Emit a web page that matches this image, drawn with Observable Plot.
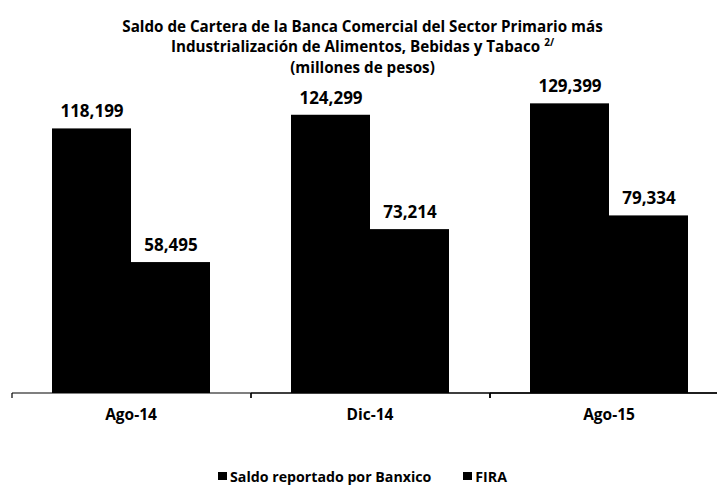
<!DOCTYPE html>
<html>
<head>
<meta charset="utf-8">
<script src="https://cdn.jsdelivr.net/npm/d3@7"></script>
<script src="https://cdn.jsdelivr.net/npm/@observablehq/plot@0.6"></script>
<style>
  html, body { margin: 0; padding: 0; background: #fff; }
  body { width: 717px; height: 485px; overflow: hidden; font-family: "Open Sans", sans-serif; color: #000; }
  #title { height: 70px; box-sizing: border-box; padding-top: 16px; text-align: center; font-weight: 700; font-size: 15.2px; line-height: 20.3px; padding-left: 8px; white-space: nowrap; }
  #title sup { font-size: 10px; line-height: 0; vertical-align: 6px; }
  #chart { width: 717px; height: 365px; overflow: hidden; }
  #chart svg { max-width: none !important; }
  #legend { height: 82px; display: flex; justify-content: center; align-items: center; gap: 32px; font-weight: 700; font-size: 14.2px; padding-left: 8px; }
  #legend .item { display: flex; align-items: center; gap: 3px; }
  #legend .sw { width: 9px; height: 8px; background: #000; display: inline-block; }
</style>
</head>
<body>
<div id="title">Saldo de Cartera de la Banca Comercial del Sector Primario más<br>Industrialización de Alimentos, Bebidas y Tabaco <sup>2/</sup><br>(millones de pesos)</div>
<div id="chart"></div>
<div id="legend"></div>
<script>
const categories = ["Ago-14", "Dic-14", "Ago-15"];
const series = ["Saldo reportado por Banxico", "FIRA"];
const banxico = [118199, 124299, 129399];
const fira = [58495, 73214, 79334];
const colors = ["#000000", "#000000"];

const data = categories.flatMap((c, i) => [
  {cat: c, serie: series[0], value: banxico[i]},
  {cat: c, serie: series[1], value: fira[i]}
]);

const fmt = d3.format(",");

const boundaryTicks = (index, scales, values, dims) => {
  const g = d3.create("svg:g");
  const fx = scales.fx, y = scales.y;
  if (!fx || !y) return g.node();
  const bw = fx.bandwidth ? fx.bandwidth() : 0;
  const xs = categories.map(c => fx(c)).concat([fx(categories[categories.length - 1]) + bw]);
  const y0 = y(0);
  g.selectAll("line").data(xs).join("line")
    .attr("x1", d => d).attr("x2", d => d)
    .attr("y1", y0).attr("y2", y0 + 5)
    .attr("stroke", "#000").attr("stroke-width", 1.2);
  g.append("line")
    .attr("x1", xs[0]).attr("x2", xs[xs.length - 1])
    .attr("y1", y0).attr("y2", y0)
    .attr("stroke", "#000").attr("stroke-width", 1.2);
  return g.node();
};

const chart = Plot.plot({
  width: 729,
  height: 365,
  marginLeft: 10,
  marginRight: 0,
  marginTop: 32,
  marginBottom: 42,
  style: {fontFamily: "Open Sans", fontSize: "15.5px", fontWeight: 700, color: "#000", background: "#fff", maxWidth: "none"},
  fx: {domain: categories, padding: 0, label: null, axis: "bottom", tickSize: 0, tickPadding: 15},
  x: {domain: series, axis: null, paddingInner: 0, paddingOuter: 0.5},
  y: {domain: [0, 130000], axis: null},
  color: {domain: series, range: colors},
  marks: [
    Plot.barY(data, {fx: "cat", x: "serie", y: "value", fill: "serie"}),
    Plot.text(data, {fx: "cat", x: "serie", y: "value", text: d => fmt(d.value), dy: -17, fontSize: 17, fontWeight: 700, fill: "#000"}),
    boundaryTicks
  ]
});
document.getElementById("chart").appendChild(chart);

const legend = d3.select("#legend");
series.forEach((s, i) => {
  const it = legend.append("div").attr("class", "item");
  it.append("span").attr("class", "sw").style("background", colors[i]);
  it.append("span").text(s);
});
</script>
</body>
</html>
